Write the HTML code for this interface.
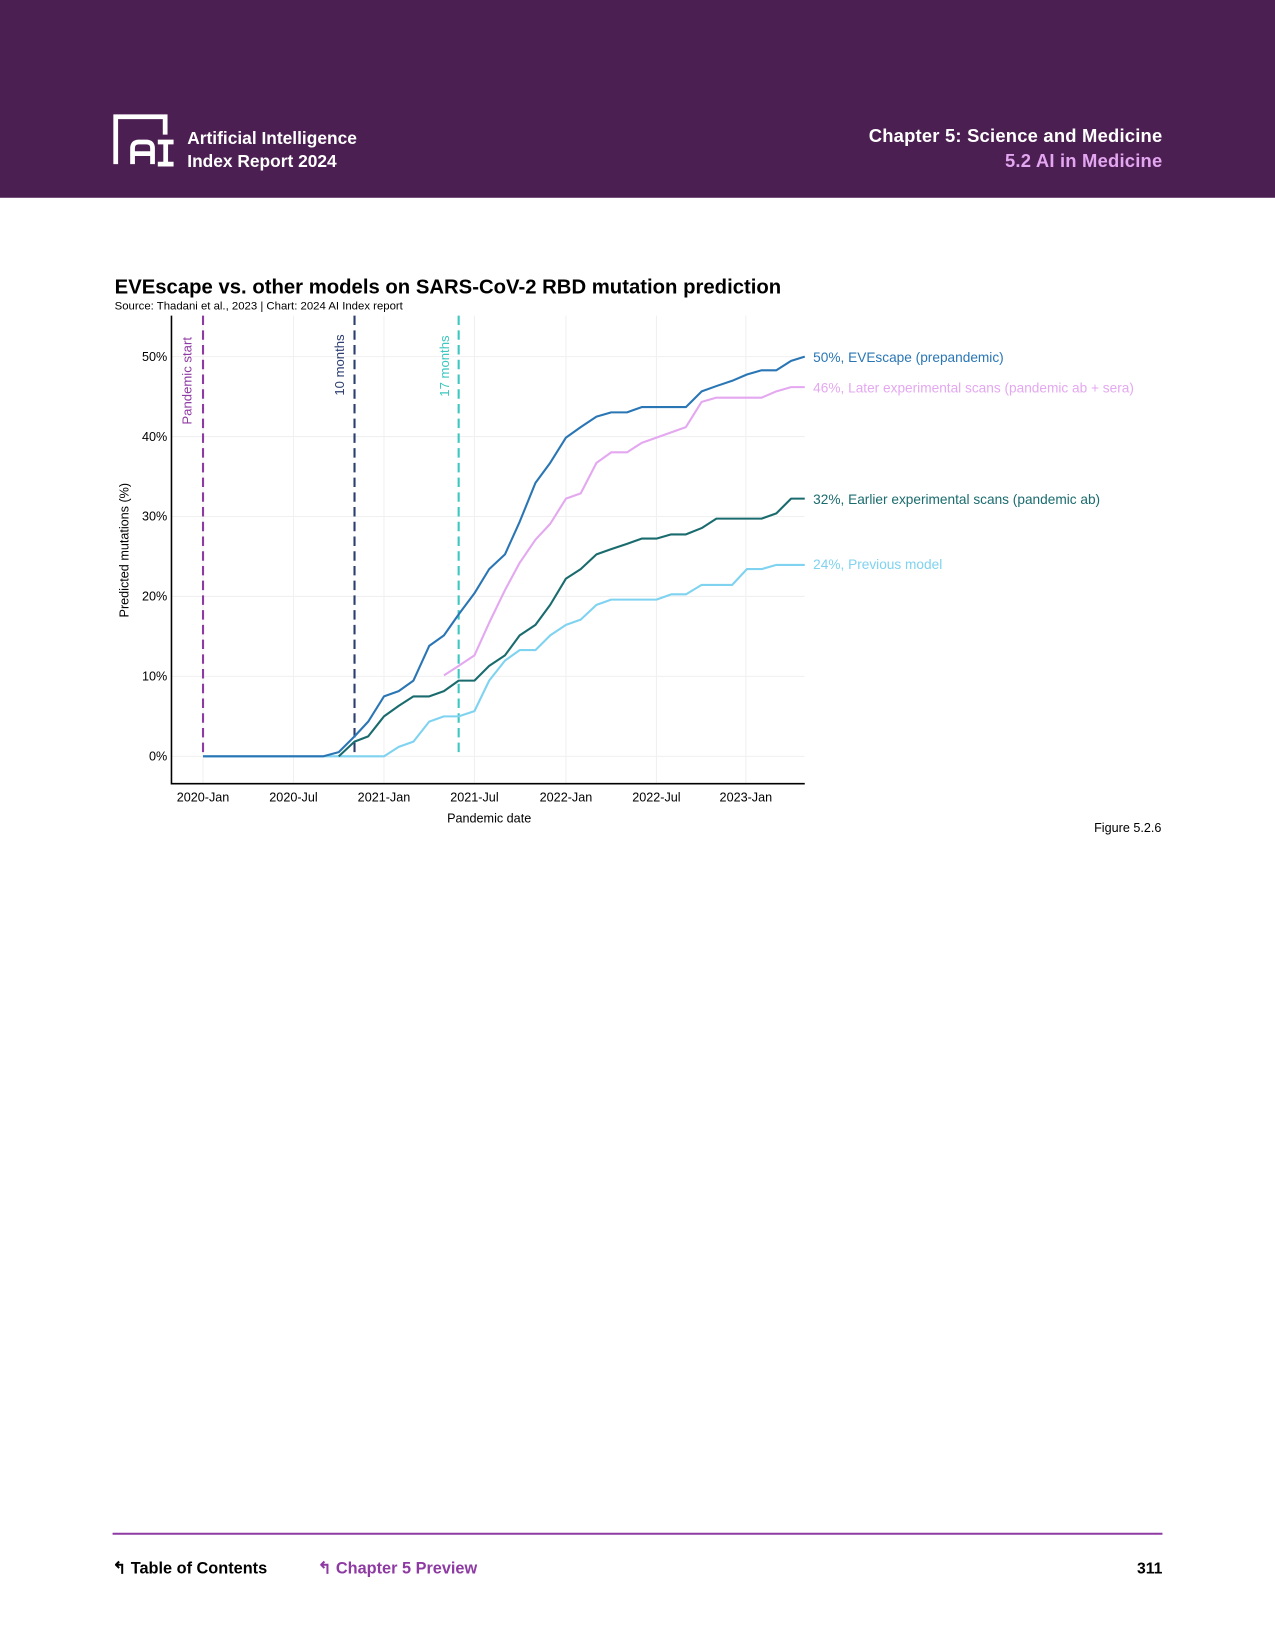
<!DOCTYPE html>
<html><head><meta charset="utf-8"><style>
html,body{margin:0;padding:0;background:#fff;}
svg{display:block;font-family:"Liberation Sans",sans-serif;}
</style></head><body>
<svg width="1275" height="1650" viewBox="0 0 1212 1568.5" preserveAspectRatio="none">
<rect x="0" y="0" width="1212" height="188" fill="#4c1f52"/>
<!-- logo -->
<g fill="none" stroke="#fff" stroke-width="4.5">
<path d="M110 156 V111 H157 V128"/>
<path d="M126 156 V141 Q126 135 132 135 H139 Q145 135 145 141 V156 M126 146 H145"/>
<path d="M150 135 H165 M157.5 135 V156 M150 156 H165"/>
</g>
<text x="178" y="137" fill="#fff" font-size="16.5" font-weight="bold">Artificial Intelligence</text>
<text x="178" y="159" fill="#fff" font-size="16.5" font-weight="bold">Index Report 2024</text>
<text x="1105" y="135" fill="#fff" font-size="17.5" font-weight="bold" text-anchor="end" letter-spacing="0.2">Chapter 5: Science and Medicine</text>
<text x="1105" y="159" fill="#e3a6f0" font-size="17.5" font-weight="bold" text-anchor="end" letter-spacing="0.2">5.2 AI in Medicine</text>

<text x="109" y="279" font-size="19.3" font-weight="bold" fill="#000">EVEscape vs. other models on SARS-CoV-2 RBD mutation prediction</text>
<text x="109" y="294" font-size="10.8" fill="#000">Source: Thadani et al., 2023 | Chart: 2024 AI Index report</text>

<!-- grid -->
<g stroke="#f0f0f0" stroke-width="1">
<line x1="163" x2="765" y1="719" y2="719"/><line x1="163" x2="765" y1="643" y2="643"/>
<line x1="163" x2="765" y1="567" y2="567"/><line x1="163" x2="765" y1="491" y2="491"/>
<line x1="163" x2="765" y1="415" y2="415"/><line x1="163" x2="765" y1="339" y2="339"/>
<line x1="193" x2="193" y1="300" y2="745"/><line x1="279" x2="279" y1="300" y2="745"/>
<line x1="365" x2="365" y1="300" y2="745"/><line x1="451" x2="451" y1="300" y2="745"/>
<line x1="538" x2="538" y1="300" y2="745"/><line x1="624" x2="624" y1="300" y2="745"/>
<line x1="709" x2="709" y1="300" y2="745"/>
</g>
<path d="M163 300 V745 H765" fill="none" stroke="#000" stroke-width="1.5"/>
<g font-size="12" fill="#000" text-anchor="end">
<text x="159" y="723">0%</text><text x="159" y="647">10%</text><text x="159" y="571">20%</text>
<text x="159" y="495">30%</text><text x="159" y="419">40%</text><text x="159" y="343">50%</text>
</g>
<g font-size="12" fill="#000" text-anchor="middle">
<text x="193" y="762">2020-Jan</text><text x="279" y="762">2020-Jul</text><text x="365" y="762">2021-Jan</text>
<text x="451" y="762">2021-Jul</text><text x="538" y="762">2022-Jan</text><text x="624" y="762">2022-Jul</text>
<text x="709" y="762">2023-Jan</text>
<text x="465" y="782">Pandemic date</text>
</g>
<text transform="translate(122,523) rotate(-90)" font-size="12" text-anchor="middle" fill="#000">Predicted mutations (%)</text>

<!-- vertical markers -->
<line x1="193" x2="193" y1="300" y2="719" stroke="#8e3aa3" stroke-width="2" stroke-dasharray="9,5"/>
<line x1="337" x2="337" y1="300" y2="719" stroke="#2c3e70" stroke-width="2" stroke-dasharray="9,5"/>
<line x1="436" x2="436" y1="300" y2="719" stroke="#3cc7c0" stroke-width="2" stroke-dasharray="9,5"/>
<text transform="translate(182,362) rotate(-90)" font-size="12.5" fill="#8e3aa3" text-anchor="middle">Pandemic start</text>
<text transform="translate(327,347) rotate(-90)" font-size="12.5" fill="#2c3e70" text-anchor="middle">10 months</text>
<text transform="translate(427,348) rotate(-90)" font-size="12.5" fill="#3cc7c0" text-anchor="middle">17 months</text>

<g fill="none" stroke-width="2" stroke-linejoin="round">
<polyline stroke="#7fd3f0" points="193,719 365,719 379,710 393,705 408,686 422,681 436,681 451,676 465,647 480,628 494,618 509,618 523,604 538,594 552,589 567,575 581,570 596,570 624,570 638,565 652,565 667,556 696,556 710,541 724,541 738,537 765,537"/>
<polyline stroke="#e4a8f0" points="422,642 436,633 451,623 465,592 480,561 494,535 509,513 523,498 538,474 552,469 567,440 581,430 596,430 610,421 624,416 638,411 652,406 667,382 681,378 696,378 724,378 738,372 752,368 765,368"/>
<polyline stroke="#1a6b6e" points="322,719 337,705 350,700 365,681 379,671 393,662 408,662 422,657 436,647 451,647 465,633 480,623 494,604 509,594 523,575 538,550 552,541 567,527 581,522 596,517 610,512 624,512 638,508 652,508 667,502 681,493 724,493 738,488 752,474 765,474"/>
<polyline stroke="#2a76b5" points="193,719 307,719 322,715 337,700 350,686 365,662 379,657 393,647 408,614 422,604 436,584 451,564 465,541 480,527 494,496 509,459 523,440 538,416 552,406 567,396 581,392 596,392 610,387 652,387 667,372 681,367 696,362 710,356 724,352 738,352 752,343 765,339"/>
</g>
<g font-size="13">
<text x="773" y="344" fill="#2a76b5">50%, EVEscape (prepandemic)</text>
<text x="773" y="373" fill="#e4a8f0">46%, Later experimental scans (pandemic ab + sera)</text>
<text x="773" y="479" fill="#1a6b6e">32%, Earlier experimental scans (pandemic ab)</text>
<text x="773" y="541" fill="#7fd3f0">24%, Previous model</text>
</g>
<text x="1104" y="791" font-size="12" text-anchor="end" fill="#000">Figure 5.2.6</text>

<line x1="107" x2="1105" y1="1458" y2="1458" stroke="#8e3aa3" stroke-width="2"/>
<text x="107" y="1496" font-size="15.5" font-weight="bold" fill="#000">↰ Table of Contents</text>
<text x="302" y="1496" font-size="15.5" font-weight="bold" fill="#8e3aa3">↰ Chapter 5 Preview</text>
<text x="1105" y="1496" font-size="15" font-weight="bold" fill="#000" text-anchor="end">311</text>
</svg>
</body></html>
